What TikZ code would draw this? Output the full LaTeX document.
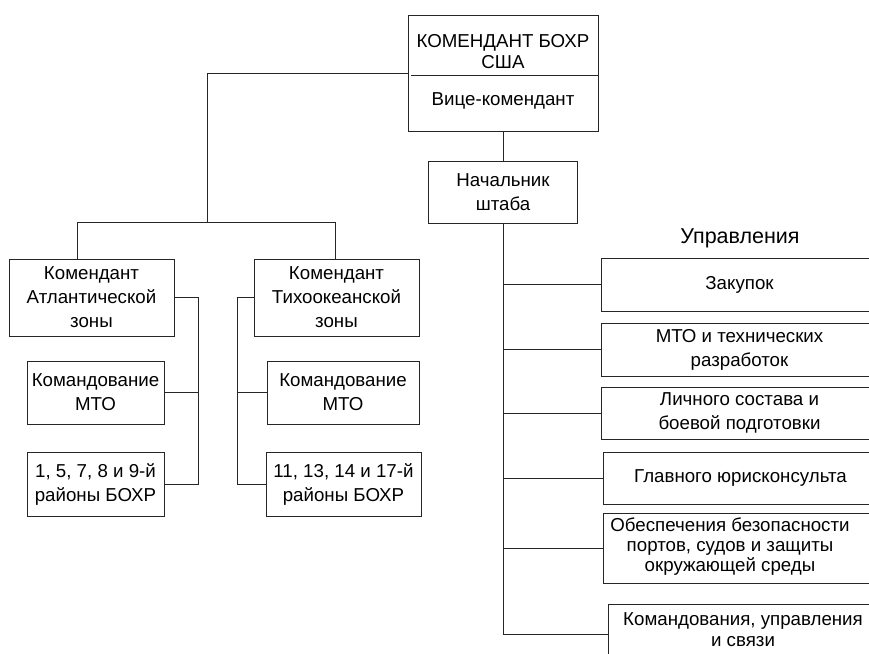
\documentclass[tikz,border=0pt]{standalone}
\usepackage{fontspec}
\setmainfont{Liberation Sans}
\begin{document}
\begin{tikzpicture}[x=1pt,y=-1pt,
  box/.style={draw=black!85, line width=0.9pt, inner sep=0pt, align=center, font=\fontsize{18.7}{24}\selectfont},
  lbl/.style={inner sep=0pt, align=center, font=\fontsize{18.7}{21}\selectfont},
  conn/.style={draw=black!85, line width=0.9pt}]
\useasboundingbox (0,0) rectangle (869,653);
% top
\node[box, minimum width=190pt, minimum height=116pt] (top) at (503,73) {};
\node[lbl] (t1) at (503,52) {КОМЕНДАНТ БОХР\\США};
\node[lbl] (t2) at (503,101) {Вице-комендант};
\draw[conn] (411,75) -- (598,75);
\node[box, minimum width=149pt, minimum height=62pt] (chief) at (503,192) {Начальник\\штаба};
% zones
\node[box, minimum width=165pt, minimum height=77pt] (A1) at (91.5,297.5) {Комендант\\Атлантической\\зоны};
\node[box, minimum width=137pt, minimum height=63pt] (A2) at (95.5,392.5) {Командование\\МТО};
\node[box, minimum width=137pt, minimum height=64pt] (A3) at (95.5,484) {1, 5, 7, 8 и 9-й\\районы БОХР};
\node[box, minimum width=165pt, minimum height=77pt] (P1) at (336.5,297.5) {Комендант\\Тихоокеанской\\зоны};
\node[box, minimum width=152pt, minimum height=63pt] (P2) at (343,392.5) {Командование\\МТО};
\node[box, minimum width=155pt, minimum height=64pt] (P3) at (343.5,484) {11, 13, 14 и 17-й\\районы БОХР};
% departments
\node[lbl, font=\fontsize{21.5}{24}\selectfont] (upr) at (740,238) {Управления};
\node[box, minimum width=277pt, minimum height=53pt] (R1) at (739.5,284.5) {Закупок};
\node[box, minimum width=277pt, minimum height=53pt] (R2) at (739.5,349.5) {МТО и технических\\разработок};
\node[box, minimum width=277pt, minimum height=52pt] (R3) at (739.5,413) {Личного состава и\\боевой подготовки};
\node[box, minimum width=275pt, minimum height=52pt] (R4) at (740.5,478) {Главного юрисконсульта};
\node[box, minimum width=275pt, minimum height=70pt] (R5) at (740.5,548) {};
\node[lbl, font=\fontsize{18.7}{20}\selectfont] (R5t) at (730,547) {Обеспечения безопасности\\портов, судов и защиты\\окружающей среды};
\node[box, minimum width=270pt, minimum height=60pt] (R6) at (743,634) {};
\node[lbl] (R6t) at (743,630) {Командования, управления\\и связи};
% connectors
\coordinate (j1) at (207,222);
\coordinate (bl) at (77,222);
\coordinate (br) at (335,222);
\coordinate (av) at (198,300);
\coordinate (pv) at (237,300);
\draw[conn] (top.west) -| (j1);
\draw[conn] (bl) -- (br);
\draw[conn] (bl) -- (bl |- A1.north);
\draw[conn] (br) -- (br |- P1.north);
\draw[conn] (A1.east) -- (A1.east -| av) -- (A3.east -| av) -- (A3.east);
\draw[conn] (A2.east) -- (A2.east -| av);
\draw[conn] (P1.west) -- (P1.west -| pv) -- (P3.west -| pv) -- (P3.west);
\draw[conn] (P2.west) -- (P2.west -| pv);
\draw[conn] (top.south) -- (chief.north);
\draw[conn] (chief.south) |- (R6.west);
\foreach \r in {R1,R2,R3,R4,R5} \draw[conn] (chief.south |- \r.west) -- (\r.west);
\end{tikzpicture}
\end{document}
